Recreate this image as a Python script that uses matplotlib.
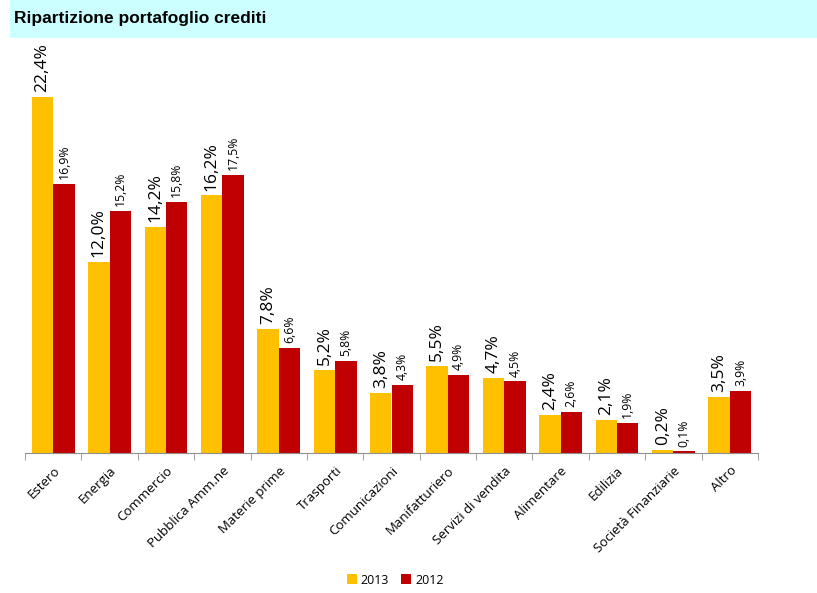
import matplotlib
matplotlib.use("Agg")
import matplotlib.pyplot as plt
import numpy as np
from matplotlib.patches import Rectangle

categories = ["Estero", "Energia", "Commercio", "Pubblica Amm.ne", "Materie prime",
              "Trasporti", "Comunicazioni", "Manifatturiero", "Servizi di vendita",
              "Alimentare", "Edilizia", "Società Finanziarie", "Altro"]
v2013 = [22.4, 12.0, 14.2, 16.2, 7.8, 5.2, 3.8, 5.5, 4.7, 2.4, 2.1, 0.2, 3.5]
v2012 = [16.9, 15.2, 15.8, 17.5, 6.6, 5.8, 4.3, 4.9, 4.5, 2.6, 1.9, 0.1, 3.9]
series_names = ["2013", "2012"]
colors = ["#FFC000", "#C00000"]

W, H = 817, 593
fig = plt.figure(figsize=(W / 100, H / 100), dpi=100)
fig.patches.append(Rectangle((10 / W, 1 - 38 / H), 1 - 10 / W, 38 / H,
                             transform=fig.transFigure, facecolor="#CCFFFF",
                             edgecolor="none", zorder=0))
fig.text(14 / W, 1 - 19 / H, "Ripartizione portafoglio crediti",
         family="Liberation Sans", weight="bold", fontsize=12.5, va="center", ha="left")

ymax = 25
px_per = 15.9
ax_left, ax_right = 25, 758
ax_bottom = 453
ax_top = ax_bottom - ymax * px_per
ax = fig.add_axes([ax_left / W, 1 - ax_bottom / H, (ax_right - ax_left) / W,
                   (ax_bottom - ax_top) / H])
ax.set_xlim(-0.5, len(categories) - 0.5)
ax.set_ylim(0, ymax)

x = np.arange(len(categories))
bw = 0.38
b1 = ax.bar(x - bw / 2, v2013, bw, color=colors[0], label=series_names[0])
b2 = ax.bar(x + bw / 2, v2012, bw, color=colors[1], label=series_names[1])

font = "Open Sans"
for xi, v in zip(x, v2013):
    ax.annotate(f"{v:.1f}%".replace(".", ","), (xi - bw / 2, v), xytext=(0, 3.5),
                textcoords="offset points", rotation=90, ha="center", va="bottom",
                fontsize=12.5, family=font)
for xi, v in zip(x, v2012):
    ax.annotate(f"{v:.1f}%".replace(".", ","), (xi + bw / 2, v), xytext=(0, 3.5),
                textcoords="offset points", rotation=90, ha="center", va="bottom",
                fontsize=8.8, family=font)

for s in ["top", "right", "left"]:
    ax.spines[s].set_visible(False)
ax.spines["bottom"].set_color("#909090")
ax.set_yticks([])
ax.set_xticks(x)
ax.set_xticklabels(categories, rotation=45, ha="right", rotation_mode="anchor",
                   family=font, fontsize=9.5)
ax.tick_params(axis="x", which="major", length=0, pad=8)
ax.set_xticks(np.arange(-0.5, len(categories), 1), minor=True)
ax.tick_params(axis="x", which="minor", length=5, color="#909090")

leg = fig.legend(handles=[b1, b2], labels=series_names, loc="center",
                 bbox_to_anchor=(395 / W, 1 - 580 / H), ncol=2, frameon=False,
                 prop={"family": font, "size": 9}, handlelength=0.8,
                 handleheight=0.9, handletextpad=0.3, columnspacing=1.0)

fig.savefig("out.png", dpi=100)
